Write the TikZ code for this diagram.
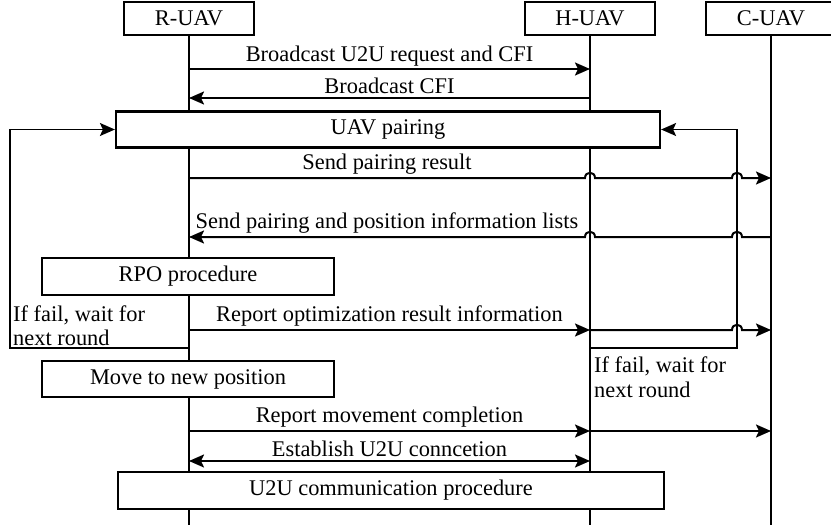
\documentclass[tikz,border=0pt]{standalone}
\usepackage{fontspec}
\setmainfont{Liberation Serif}
\usepackage{tikz}
\usetikzlibrary{arrows.meta}

\tikzset{
  uav/.style={draw, line width=2.2pt, fill=white, minimum width=130pt, minimum height=33pt, inner sep=0pt},
  proc/.style={draw, line width=2.2pt, fill=white, minimum height=36pt, inner sep=0pt},
  life/.style={line width=1.5pt},
  msg/.style={line width=2pt, ->},
  loopline/.style={line width=1.6pt, ->},
  lbl/.style={anchor=south, yshift=#1, inner sep=0pt, text depth=0pt},
  lbl/.default=7pt,
  note/.style={align=left, inner xsep=3pt, inner ysep=2pt}
}

\begin{document}
\begin{tikzpicture}[x=1pt, y=-1pt, font=\fontsize{22.4}{24.5}\selectfont,
  >={Stealth[length=15pt,width=13pt,inset=3pt]}]
\useasboundingbox (0,0) rectangle (831,530);

% levels of the messages
\coordinate (m1) at (0,69);
\coordinate (m2) at (0,98);
\coordinate (m3) at (0,178);
\coordinate (m4) at (0,237);
\coordinate (m5) at (0,330);
\coordinate (m6) at (0,431);
\coordinate (m7) at (0,461);
\coordinate (fl) at (0,348);
\coordinate (lx) at (10,0);
\coordinate (rloop) at (737,0);
\coordinate (end) at (0,525);

% lifelines
\node[uav] (R) at (189,18.5) {R-UAV};
\node[uav] (H) at (590,18.5) {H-UAV};
\node[uav] (C) at (771,18.5) {C-UAV};
\draw[life] (R.south) -- (R.south |- end);
\draw[life] (H.south) -- (H.south |- end);
\draw[life] (C.south) -- (C.south |- end);

% procedures
\node[proc, minimum width=544pt] (pair) at (388,129.5) {UAV pairing};
\node[proc, minimum width=292pt, minimum height=37pt] (rpo) at (188,276.5) {RPO procedure};
\node[proc, minimum width=292pt] (move) at (188,379) {Move to new position};
\node[proc, minimum width=546pt, minimum height=37pt] (comm) at (391,490.5) {U2U communication procedure};

% messages
\draw[msg] (R.south |- m1) -- node[lbl] {Broadcast U2U request and CFI} (H.south |- m1);
\draw[msg] (H.south |- m2) -- node[lbl=4pt] {Broadcast CFI} (R.south |- m2);
\draw[msg] (R.south |- m3) -- node[lbl=8pt] {Send pairing result} ([xshift=-5pt]H.south |- m3)
  .. controls +(0,-7) and +(0,-7) .. ++(10,0) -- ([xshift=-5pt]rloop |- m3)
  .. controls +(0,-7) and +(0,-7) .. ++(10,0) -- (C.south |- m3);
\draw[msg] (C.south |- m4) -- ([xshift=5pt]rloop |- m4)
  .. controls +(0,-7) and +(0,-7) .. ++(-10,0) -- ([xshift=5pt]H.south |- m4)
  .. controls +(0,-7) and +(0,-7) .. ++(-10,0)
  -- node[lbl=8pt] {Send pairing and position information lists} (R.south |- m4);
\draw[msg] (R.south |- m5) -- node[lbl=8pt] {Report optimization result information} (H.south |- m5);
\draw[msg] (H.south |- m5) -- ([xshift=-5pt]rloop |- m5)
  .. controls +(0,-7) and +(0,-7) .. ++(10,0) -- (C.south |- m5);
\draw[msg] (R.south |- m6) -- node[lbl=8pt] {Report movement completion} (H.south |- m6);
\draw[msg] (H.south |- m6) -- (C.south |- m6);
\draw[msg, <->] (R.south |- m7) -- node[lbl=4pt] {Establish U2U conncetion} (H.south |- m7);

% retry loops
\draw[loopline] (R.south |- fl) -| (lx |- pair.west) -- (pair.west);
\node[note, anchor=south west] (failR) at (lx |- fl) {If fail, wait for\\next round};
\draw[loopline] (H.south |- fl) -| (rloop |- pair.east) -- (pair.east);
\node[note, anchor=north west, inner xsep=4pt] (failH) at ([yshift=-7pt]H.south |- fl) {If fail, wait for\\next round};
\end{tikzpicture}
\end{document}
